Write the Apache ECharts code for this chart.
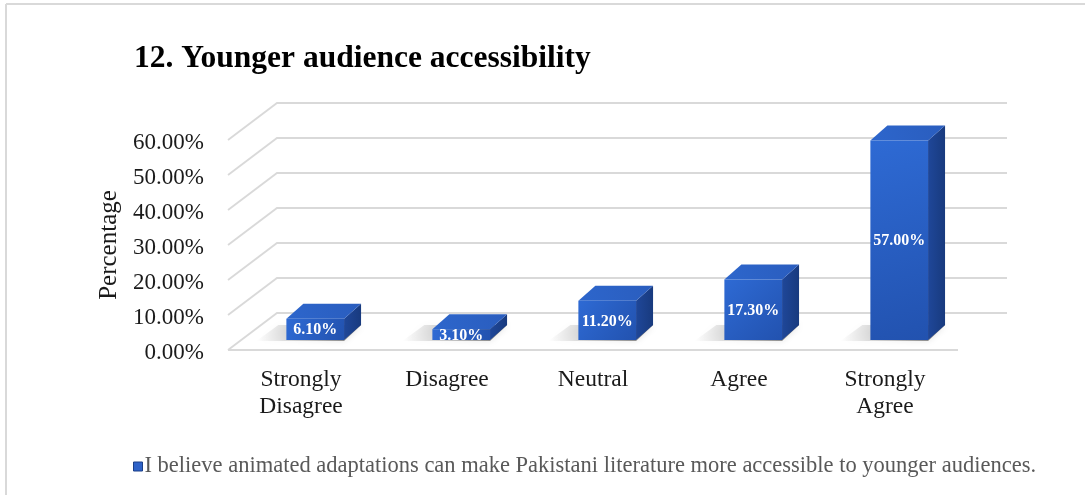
<!DOCTYPE html>
<html>
<head>
<meta charset="utf-8">
<script src="https://cdn.jsdelivr.net/npm/echarts@6/dist/echarts.min.js"></script>
<style>
html,body{margin:0;padding:0;background:#fff;}
#chart{width:1085px;height:495px;}
</style>
</head>
<body>
<div id="chart"></div>
<script>
// ---- data ----
const categories = ['Strongly\nDisagree', 'Disagree', 'Neutral', 'Agree', 'Strongly\nAgree'];
const values = [6.1, 3.1, 11.2, 17.3, 57.0];
const yTicks = [0, 10, 20, 30, 40, 50, 60];
const seriesName = 'I believe animated adaptations can make Pakistani literature more accessible to younger audiences.';
const titleText = '12. Younger audience accessibility';
const yAxisName = 'Percentage';

// ---- styling constants ----
const FONT = '"Liberation Serif", "Times New Roman", serif';
const DX = 49, DY = 37;        // floor depth offset
const BDX = 17, BDY = 15;      // bar depth offset
const GRID_COLOR = '#d9d9d9';

const chart = echarts.init(document.getElementById('chart'), null, {renderer: 'canvas'});

function renderGrid(params, api) {
  const v = api.value(1);
  const c = api.coord([0, v]);
  const band = api.size([1, 0])[0];
  const xL = c[0] - band / 2;
  const xR = xL + band * categories.length;
  const y = c[1];
  const children = [{
    type: 'polyline',
    shape: {points: [[xL, y], [xL + DX, y - DY], [xR + DX, y - DY]]},
    style: {stroke: GRID_COLOR, lineWidth: 1.8, fill: null}
  }];
  if (v === 0) {
    children.push({
      type: 'line',
      shape: {x1: xL, y1: y, x2: xR, y2: y},
      style: {stroke: GRID_COLOR, lineWidth: 1.8}
    });
  }
  return {type: 'group', children: children, silent: true};
}

function renderBar(params, api) {
  const i = api.value(0), v = api.value(1);
  const c = api.coord([i, v]);
  const c0 = api.coord([i, 0]);
  const band = api.size([1, 0])[0];
  const bw = band * 0.395;
  const fx = DX * 0.29, fy = DY * 0.27;
  const x0 = c[0] - bw / 2 + fx;
  const x1 = x0 + bw;
  const yt = c[1] - fy;
  const yb = c0[1] - fy;
  const h = yb - yt;
  const frontGrad = new echarts.graphic.LinearGradient(0, 0, 1, 1, [
    {offset: 0, color: '#2E6AD4'}, {offset: 1, color: '#2252AF'}]);
  const sideGrad = new echarts.graphic.LinearGradient(0, 0, 1, 0, [
    {offset: 0, color: '#1F4799'}, {offset: 1, color: '#183A7E'}]);
  const topGrad = new echarts.graphic.LinearGradient(0, 1, 1, 0, [
    {offset: 0, color: '#2D66CC'}, {offset: 1, color: '#2A5DBE'}]);
  const shadowGrad = new echarts.graphic.LinearGradient(0, 0, 1, 0, [
    {offset: 0, color: 'rgba(0,0,0,0)'}, {offset: 0.5, color: 'rgba(0,0,0,0.22)'}, {offset: 1, color: 'rgba(0,0,0,0.5)'}]);
  return {
    type: 'group',
    children: [
      { // floor shadow
        type: 'polygon',
        shape: {points: [[x0 - 30, yb + 1], [x1, yb + 1], [x1 + BDX, yb - BDY], [x0 - 8, yb - BDY]]},
        style: {fill: shadowGrad, shadowBlur: 6, shadowColor: 'rgba(0,0,0,0.25)'},
        z2: 1
      },
      {
        type: 'polygon',
        shape: {points: [[x1, yt], [x1 + BDX, yt - BDY], [x1 + BDX, yb - BDY], [x1, yb]]},
        style: {fill: sideGrad},
        z2: 2
      },
      {
        type: 'polygon',
        shape: {points: [[x0, yt], [x1, yt], [x1 + BDX, yt - BDY], [x0 + BDX, yt - BDY]]},
        style: {fill: topGrad},
        z2: 2
      },
      {
        type: 'rect',
        shape: {x: x0, y: yt, width: bw, height: h},
        style: {fill: frontGrad},
        z2: 3
      },
      {
        type: 'text',
        style: {
          x: x0 + bw / 2, y: yt + h / 2 + 1,
          text: v.toFixed(2) + '%',
          fill: '#ffffff', font: 'bold 16px ' + FONT,
          align: 'center', verticalAlign: 'middle'
        },
        z2: 4
      }
    ]
  };
}

const option = {
  backgroundColor: '#ffffff',
  animation: false,
  title: {
    text: titleText,
    left: 129, top: 38,
    textStyle: {fontFamily: FONT, fontSize: 31.5, fontWeight: 'bold', color: '#000000'}
  },
  legend: {
    left: 128, top: 450,
    itemWidth: 9, itemHeight: 9, itemGap: 5,
    data: [{name: seriesName, icon: 'rect',
      itemStyle: {color: '#2E62C8', borderColor: '#1B3F88', borderWidth: 1}}],
    textStyle: {fontFamily: FONT, fontSize: 22.5, color: '#595959', padding: [0, 0, 0, -3]}
  },
  grid: {left: 228, right: 127, top: 140, bottom: 145, containLabel: false},
  xAxis: {
    type: 'category',
    data: categories,
    axisLine: {show: false},
    axisTick: {show: false},
    axisLabel: {
      margin: 16, interval: 0,
      fontFamily: FONT, fontSize: 23.5, color: '#1a1a1a', lineHeight: 27
    }
  },
  yAxis: {
    type: 'value',
    min: 0, max: 60, interval: 10,
    name: yAxisName,
    nameLocation: 'middle', nameGap: 105,
    nameTextStyle: {fontFamily: FONT, fontSize: 25, color: '#1a1a1a'},
    axisLine: {show: false},
    axisTick: {show: false},
    splitLine: {show: false},
    axisLabel: {
      margin: 24,
      fontFamily: FONT, fontSize: 23, color: '#1a1a1a',
      verticalAlign: 'top', lineHeight: 6,
      formatter: v => v.toFixed(2) + '%'
    }
  },
  graphic: [
    {type: 'line', shape: {x1: 6, y1: 4, x2: 6, y2: 495}, style: {stroke: '#d9d9d9', lineWidth: 2}, silent: true},
    {type: 'line', shape: {x1: 6, y1: 4, x2: 1085, y2: 4}, style: {stroke: '#d9d9d9', lineWidth: 2}, silent: true}
  ],
  series: [
    {
      type: 'custom',
      name: 'grid',
      renderItem: renderGrid,
      data: yTicks.map(t => [0, t]),
      z: 1,
      silent: true,
      tooltip: {show: false}
    },
    {
      type: 'custom',
      name: seriesName,
      renderItem: renderBar,
      itemStyle: {color: '#2E62C8'},
      data: values.map((v, i) => [i, v]),
      z: 2
    }
  ]
};
chart.setOption(option);
</script>
</body>
</html>
